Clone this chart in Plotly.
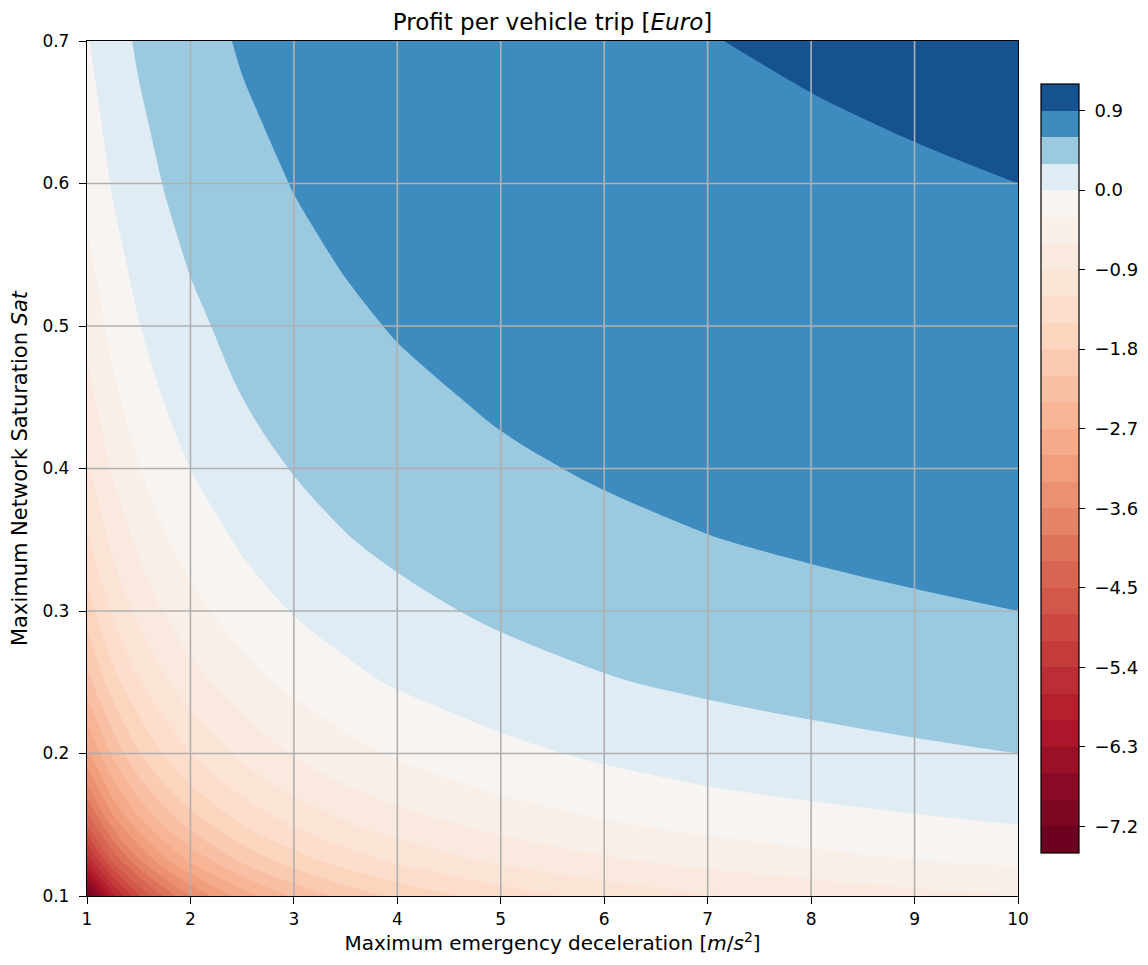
import plotly.graph_objects as go

# ---------------- data ----------------
decel = [1, 1.25, 1.5, 1.75, 2, 2.5, 3, 3.5, 4, 5, 6, 7, 8, 9, 10]
saturation = [0.1, 0.125, 0.15, 0.175, 0.2, 0.25, 0.3, 0.35, 0.4, 0.45,
              0.5, 0.55, 0.6, 0.65, 0.7]

# profit per vehicle trip [Euro]; one row per saturation value, one column per decel value
profit_sat_010 = [-7.35, -5.85, -4.85, -4.136, -3.6, -2.85, -2.35, -1.993, -1.725, -1.35, -1.1, -0.921, -0.788, -0.683, -0.6]
profit_sat_0125 = [-5.64, -4.44, -3.64, -3.069, -2.64, -2.04, -1.64, -1.354, -1.14, -0.84, -0.64, -0.497, -0.39, -0.307, -0.24]
profit_sat_015 = [-4.5, -3.5, -2.833, -2.357, -2.0, -1.5, -1.167, -0.929, -0.75, -0.5, -0.333, -0.214, -0.125, -0.056, 0.0]
profit_sat_0175 = [-3.686, -2.829, -2.257, -1.849, -1.543, -1.114, -0.829, -0.624, -0.471, -0.257, -0.114, -0.012, 0.064, 0.124, 0.171]
profit_sat_020 = [-3.075, -2.325, -1.825, -1.468, -1.2, -0.825, -0.575, -0.396, -0.263, -0.075, 0.05, 0.139, 0.206, 0.258, 0.3]
profit_sat_025 = [-2.22, -1.62, -1.22, -0.934, -0.72, -0.42, -0.22, -0.077, 0.03, 0.18, 0.28, 0.351, 0.405, 0.447, 0.48]
profit_sat_030 = [-1.65, -1.15, -0.817, -0.579, -0.4, -0.15, 0.017, 0.136, 0.225, 0.35, 0.433, 0.493, 0.538, 0.572, 0.6]
profit_sat_035 = [-1.243, -0.814, -0.529, -0.324, -0.171, 0.043, 0.186, 0.288, 0.364, 0.471, 0.543, 0.594, 0.632, 0.662, 0.686]
profit_sat_040 = [-0.938, -0.563, -0.313, -0.134, 0.0, 0.188, 0.313, 0.402, 0.469, 0.563, 0.625, 0.670, 0.703, 0.729, 0.75]
profit_sat_045 = [-0.7, -0.367, -0.144, 0.014, 0.133, 0.3, 0.411, 0.490, 0.55, 0.633, 0.689, 0.729, 0.758, 0.781, 0.8]
profit_sat_050 = [-0.51, -0.21, -0.01, 0.133, 0.24, 0.39, 0.49, 0.561, 0.615, 0.69, 0.74, 0.776, 0.803, 0.823, 0.84]
profit_sat_055 = [-0.355, -0.082, 0.1, 0.230, 0.327, 0.464, 0.555, 0.619, 0.668, 0.736, 0.782, 0.814, 0.839, 0.858, 0.873]
profit_sat_060 = [-0.225, 0.025, 0.192, 0.311, 0.4, 0.525, 0.608, 0.668, 0.713, 0.775, 0.817, 0.846, 0.869, 0.886, 0.9]
profit_sat_065 = [-0.115, 0.115, 0.269, 0.379, 0.462, 0.577, 0.654, 0.709, 0.75, 0.808, 0.846, 0.874, 0.894, 0.910, 0.923]
profit_sat_070 = [-0.021, 0.193, 0.336, 0.438, 0.514, 0.621, 0.693, 0.744, 0.782, 0.836, 0.871, 0.897, 0.916, 0.931, 0.943]

profit = [profit_sat_010, profit_sat_0125, profit_sat_015, profit_sat_0175,
          profit_sat_020, profit_sat_025, profit_sat_030, profit_sat_035,
          profit_sat_040, profit_sat_045, profit_sat_050, profit_sat_055,
          profit_sat_060, profit_sat_065, profit_sat_070]

x_ticks = [1, 2, 3, 4, 5, 6, 7, 8, 9, 10]
y_ticks = [0.1, 0.2, 0.3, 0.4, 0.5, 0.6, 0.7]
cbar_ticks = [0.9, 0.0, -0.9, -1.8, -2.7, -3.6, -4.5, -5.4, -6.3, -7.2]

# contour levels
level_start = -7.5
level_end = 1.2
level_step = 0.3
n_bands = 29

# ---------------- colours: matplotlib RdBu, diverging around 0 ----------------
RDBU = [(103, 0, 31), (178, 24, 43), (214, 96, 77), (244, 165, 130),
        (253, 219, 199), (247, 247, 247), (209, 229, 240), (146, 197, 222),
        (67, 147, 195), (33, 102, 172), (5, 48, 97)]


def rdbu(t):
    idx = min(int(t * 256), 255)
    t = idx / 255.0
    p = t * 10
    i = min(int(p), 9)
    f = p - i
    a, b = RDBU[i], RDBU[i + 1]
    c = [round(a[k] + (b[k] - a[k]) * f) for k in range(3)]
    return "rgb(%d,%d,%d)" % tuple(c)


def two_slope(v):
    if v < 0:
        return 0.5 * (v - level_start) / (0 - level_start)
    return 0.5 + 0.5 * v / level_end


colorscale = []
for k in range(n_bands):
    mid = level_start + level_step * (k + 0.5)
    col = rdbu(two_slope(mid))
    colorscale.append([k / n_bands, col])
    colorscale.append([(k + 1) / n_bands, col])


def fmt(v):
    s = "%.1f" % v
    return "\u00a0" + s.replace("-", "\u2212")


# the page body adds an 8px offset; size the figure so the plot lands where the reference has it
PAGE_OFFSET = 8
FIG_W, FIG_H = 1148 - PAGE_OFFSET, 965 - PAGE_OFFSET

fig = go.Figure()
fig.add_trace(go.Contour(
    x=decel, y=saturation, z=profit,
    autocontour=False,
    contours=dict(start=level_start, end=level_end, size=level_step,
                  coloring="fill", showlines=False),
    line=dict(width=0),
    zmin=level_start, zmax=level_end + 1e-7,
    colorscale=colorscale,
    colorbar=dict(
        thickness=38, thicknessmode="pixels",
        len=769, lenmode="pixels",
        x=1.0252, xanchor="left", xpad=0,
        y=0.5, yanchor="middle", ypad=0,
        outlinewidth=1.2, outlinecolor="black",
        tickmode="array", tickvals=cbar_ticks,
        ticktext=[fmt(v) for v in cbar_ticks],
        ticks="outside", ticklen=6, tickwidth=1.2, tickcolor="black",
        tickfont=dict(size=18, color="black", family="DejaVu Sans"),
    ),
    hoverinfo="x+y+z",
))

# grid lines drawn above the filled contours (as matplotlib does)
shapes = []
for xv in x_ticks[1:-1]:
    shapes.append(dict(type="line", xref="x", yref="paper", x0=xv, x1=xv, y0=0, y1=1,
                       line=dict(color="#b0b0b0", width=1.6), layer="above"))
for yv in y_ticks[1:-1]:
    shapes.append(dict(type="line", xref="paper", yref="y", x0=0, x1=1, y0=yv, y1=yv,
                       line=dict(color="#b0b0b0", width=1.6), layer="above"))

axis_common = dict(
    showgrid=False, zeroline=False, automargin=False,
    showline=True, mirror=True, linecolor="black", linewidth=1.3,
    ticks="outside", ticklen=7, tickwidth=1.2, tickcolor="black",
    tickfont=dict(size=17, color="black", family="DejaVu Sans"),
)

fig.update_layout(
    width=FIG_W, height=FIG_H,
    margin=dict(l=87 - PAGE_OFFSET, r=130, t=41 - PAGE_OFFSET, b=69, autoexpand=False),
    paper_bgcolor="white", plot_bgcolor="white",
    font=dict(family="DejaVu Sans", color="black"),
    title=dict(text="Profit per vehicle trip [<i>Euro</i>]",
               x=0.5, xref="paper", xanchor="center",
               y=1 - (22 - PAGE_OFFSET) / FIG_H, yref="container", yanchor="middle",
               font=dict(size=23, color="black", family="DejaVu Sans")),
    xaxis=dict(range=[1, 10], tickmode="array", tickvals=x_ticks,
               title=dict(text="Maximum emergency deceleration [<i>m</i>/<i>s</i><sup>2</sup>]",
                          font=dict(size=20, color="black"), standoff=7),
               **axis_common),
    yaxis=dict(range=[0.1, 0.7], tickmode="array", tickvals=y_ticks,
               ticktext=["%.1f" % v for v in y_ticks],
               ticklabelstandoff=6,
               title=dict(text="Maximum Network Saturation <i>Sat</i>",
                          font=dict(size=21, color="black"), standoff=20),
               **axis_common),
    shapes=shapes,
)

fig.write_html("out.html")
